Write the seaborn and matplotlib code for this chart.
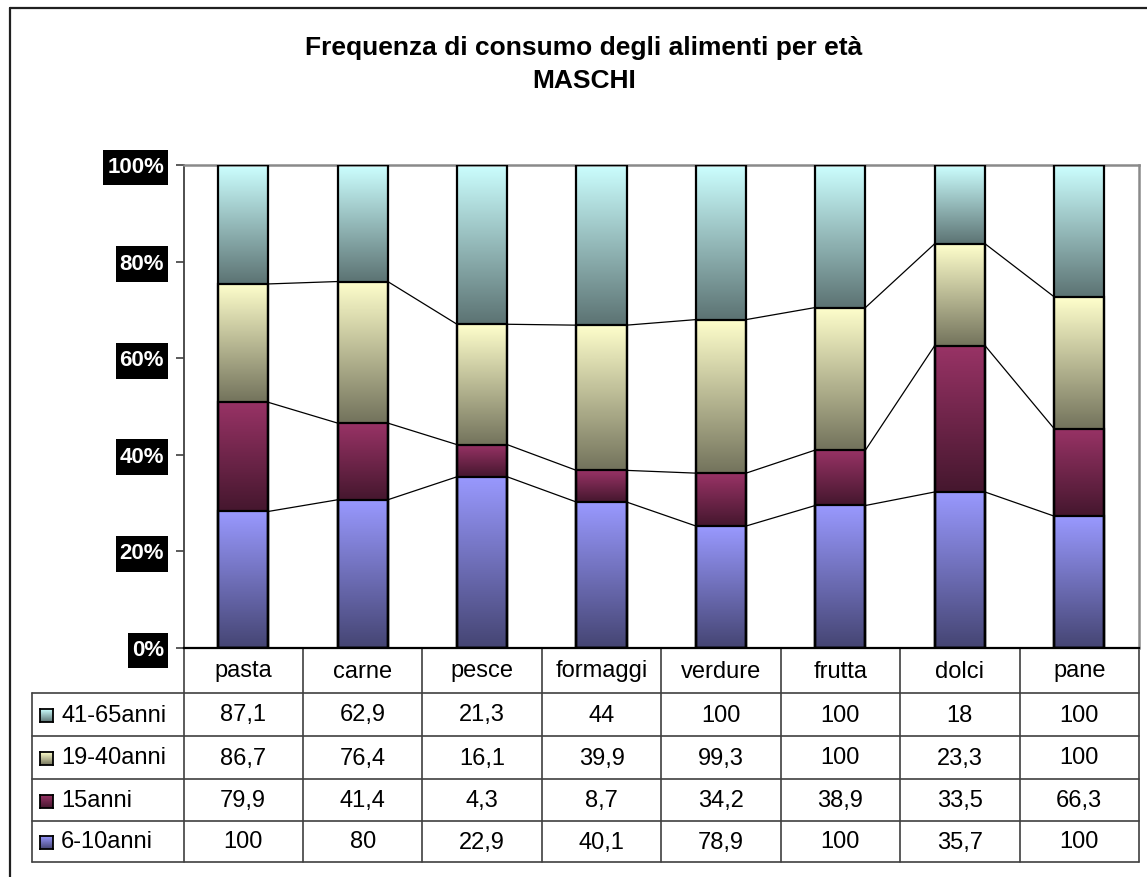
import numpy as np
import matplotlib
matplotlib.use("Agg")
import matplotlib.pyplot as plt
import seaborn as sns
from matplotlib.lines import Line2D
from matplotlib.path import Path
from matplotlib.transforms import blended_transform_factory

# ---------------- data ----------------
categories = ["pasta", "carne", "pesce", "formaggi", "verdure", "frutta", "dolci", "pane"]
series_names = ["6-10anni", "15anni", "19-40anni", "41-65anni"]
v_6_10 = [100, 80, 22.9, 40.1, 78.9, 100, 35.7, 100]
v_15 = [79.9, 41.4, 4.3, 8.7, 34.2, 38.9, 33.5, 66.3]
v_19_40 = [86.7, 76.4, 16.1, 39.9, 99.3, 100, 23.3, 100]
v_41_65 = [87.1, 62.9, 21.3, 44, 100, 100, 18, 100]
ytick_values = [0, 20, 40, 60, 80, 100]
ytick_labels = ["0%", "20%", "40%", "60%", "80%", "100%"]
title_lines = ["Frequenza di consumo degli alimenti per età", "MASCHI"]

top_colors = ["#9999FF", "#993366", "#FFFFCC", "#CCFFFF"]
DARK = 0.45

sns.set_style("white")
plt.rcParams["font.family"] = ["Liberation Sans", "DejaVu Sans"]
plt.rcParams["text.color"] = "black"

W, H = 1147, 877
fig = plt.figure(figsize=(W / 100, H / 100), dpi=100)
fig.patch.set_facecolor("white")

AX_L, AX_R, AX_T, AX_B = 183.5, 1139.0, 165.0, 648.0
ax = fig.add_axes([AX_L / W, 1 - AX_B / H, (AX_R - AX_L) / W, (AX_B - AX_T) / H])

values = np.array([v_6_10, v_15, v_19_40, v_41_65], dtype=float)
pct = values / values.sum(axis=0) * 100
cum = np.cumsum(pct, axis=0)


def gradient(hexcol, n=256):
    rgb = np.array(matplotlib.colors.to_rgb(hexcol))
    f = np.linspace(1.0, DARK, n)[:, None, None]
    return f * rgb[None, None, :]


bar_w = 0.42
bar_patches = {}
for i in reversed(range(4)):
    before = len(ax.patches)
    sns.barplot(x=categories, y=cum[i], order=categories, color=top_colors[i],
                width=bar_w, errorbar=None, ax=ax, edgecolor="black", linewidth=1.6)
    new = ax.patches[before:]
    for p in new:
        p.set_facecolor("none")
        p.set_zorder(5)
    bar_patches[i] = new

for i in range(4):
    for j, p in enumerate(bar_patches[i]):
        x0, w = p.get_x(), p.get_width()
        b = cum[i - 1][j] if i > 0 else 0.0
        t = cum[i][j]
        ax.imshow(gradient(top_colors[i]), extent=[x0, x0 + w, b, t], aspect="auto",
                  origin="upper", zorder=2, interpolation="bilinear")

# series lines
for i in range(3):
    ps = bar_patches[i]
    for j in range(len(categories) - 1):
        xa = ps[j].get_x() + ps[j].get_width()
        xb = ps[j + 1].get_x()
        ax.plot([xa, xb], [cum[i][j], cum[i][j + 1]], color="black", lw=0.9, zorder=3)

ax.set_xlim(-0.5, len(categories) - 0.5)
ax.set_ylim(0, 100)
ax.set_xlabel("")
ax.set_ylabel("")
ax.tick_params(axis="x", bottom=False, labelbottom=False)
ax.set_yticks(ytick_values)
ax.set_yticklabels(ytick_labels, fontsize=16, fontweight="bold", color="white")
ax.tick_params(axis="y", left=True, direction="out", length=6, width=1.2,
               color="#404040", pad=8.0)


def tall_box(x0, y0, width, height, mutation_size):
    px = 0.17 * mutation_size
    py = 0.33 * mutation_size
    x1, y1 = x0 + width + px, y0 + height + py
    xa, ya = x0 - px, y0 - py
    return Path([(xa, ya), (x1, ya), (x1, y1), (xa, y1), (xa, ya)],
                [Path.MOVETO, Path.LINETO, Path.LINETO, Path.LINETO, Path.CLOSEPOLY])


for lbl in ax.get_yticklabels():
    lbl.set_bbox(dict(facecolor="black", edgecolor="none", boxstyle=tall_box))

for s in ["top", "right"]:
    ax.spines[s].set_color("#8a8a8a")
    ax.spines[s].set_linewidth(1.8)
ax.spines["left"].set_color("#404040")
ax.spines["left"].set_linewidth(1.3)
ax.spines["bottom"].set_color("black")
ax.spines["bottom"].set_linewidth(1.6)
for s in ax.spines.values():
    s.set_visible(True)

# ---------------- data table ----------------
trans = blended_transform_factory(ax.transData, fig.transFigure)
fy = lambda y: 1 - y / H
row_lines = [693, 736, 779, 821, 862]
tab_left = 32
grid_col = "#404040"
TFS = 17

for k in range(len(categories) + 1):
    xk = k - 0.5
    ax.add_line(Line2D([xk, xk], [fy(AX_B), fy(row_lines[-1])], transform=trans,
                       color=grid_col, lw=1.2, clip_on=False))
for y in row_lines:
    fig.add_artist(Line2D([tab_left / W, AX_R / W], [fy(y), fy(y)],
                          color=grid_col, lw=1.2))
fig.add_artist(Line2D([tab_left / W, tab_left / W], [fy(row_lines[0]), fy(row_lines[-1])],
                      color=grid_col, lw=1.2))

# header
for j, c in enumerate(categories):
    ax.text(j, fy((AX_B + row_lines[0]) / 2 + 1), c, transform=trans, ha="center", va="center",
            fontsize=TFS, color="black", clip_on=False)


def fmt(v):
    return f"{v:g}".replace(".", ",")


table_order = [3, 2, 1, 0]
for r, si in enumerate(table_order):
    yc = (row_lines[r] + row_lines[r + 1]) / 2
    for j in range(len(categories)):
        ax.text(j, fy(yc + 1), fmt(values[si][j]), transform=trans, ha="center", va="center",
                fontsize=TFS, color="black", clip_on=False)
    # legend key
    k_ax = fig.add_axes([40 / W, fy(yc + 7.5), 13 / W, 13 / H])
    k_ax.imshow(gradient(top_colors[si]), aspect="auto", extent=[0, 1, 0, 1], origin="upper")
    k_ax.set_xticks([])
    k_ax.set_yticks([])
    for s in k_ax.spines.values():
        s.set_visible(True)
        s.set_color("black")
        s.set_linewidth(1.3)
    fig.text(61 / W, fy(yc + 1), series_names[si], ha="left", va="center", fontsize=TFS,
             color="black")

# title
fig.text(584 / W, fy(55.5), title_lines[0], ha="center", va="baseline",
         fontsize=19, fontweight="bold", color="black")
fig.text(584 / W, fy(88), title_lines[1], ha="center", va="baseline",
         fontsize=19, fontweight="bold", color="black")

# outer chart frame
fig.add_artist(Line2D([10 / W, 1.0], [fy(8), fy(8)], color="#202020", lw=1.6))
fig.add_artist(Line2D([10 / W, 10 / W], [fy(8), 0.0], color="#202020", lw=1.6))

fig.savefig("out.png", dpi=100)
